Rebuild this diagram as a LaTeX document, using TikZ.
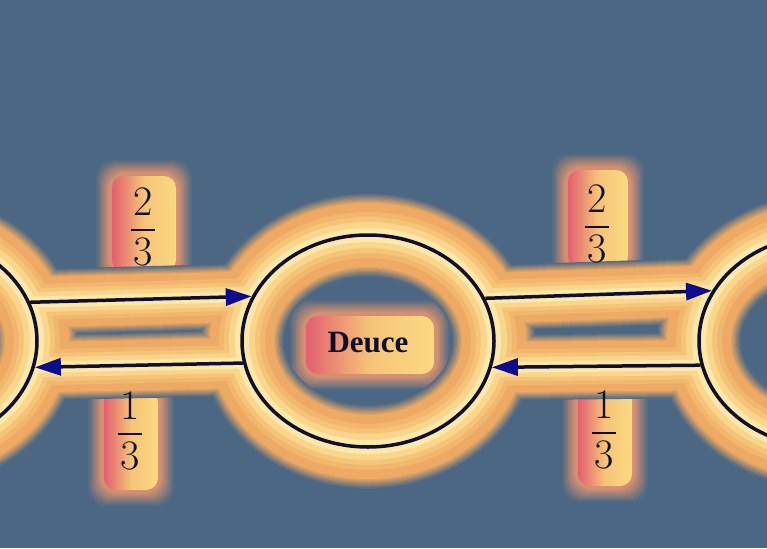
\documentclass[tikz,border=0pt]{standalone}
\usepackage{fontspec}
\newfontfamily\deucefont{Liberation Serif}
\usetikzlibrary{arrows.meta,backgrounds,shapes.geometric}
\definecolor{bg}{RGB}{75,103,132}
\definecolor{ink}{RGB}{15,15,45}
\definecolor{tipblue}{RGB}{12,12,140}
\definecolor{gD}{RGB}{238,170,100}
\definecolor{gE}{RGB}{246,196,120}
\definecolor{gF}{RGB}{250,214,140}
\definecolor{gG}{RGB}{252,232,170}
\definecolor{pinkglow}{RGB}{226,96,112}
\definecolor{yelglow}{RGB}{250,218,130}
\definecolor{halo}{RGB}{232,150,110}
\newcommand\glowlevel[3]{%
  \draw[line width=#1, color=#3] (L.center) ellipse [x radius=126, y radius=106];
  \draw[line width=#1, color=#3] (C.center) ellipse [x radius=126, y radius=106];
  \draw[line width=#1, color=#3] (R.center) ellipse [x radius=126, y radius=106];
  \draw[line width=#2, color=#3] (L.18.9) -- (C.159.1);
  \draw[line width=#2, color=#3] (C.-170.8) -- (L.-12.5);
  \draw[line width=#2, color=#3] (C.20.5) -- (R.156.4);
  \draw[line width=#2, color=#3] (R.-169.9) -- (C.-12);
}
\newcommand\labglow[4]{%
  \foreach \i in {0,...,6}{%
    \pgfmathsetmacro\off{16-2*\i}%
    \pgfmathsetmacro\mx{int(8+13*\i)}%
    \fill[halo!\mx!bg, rounded corners=18pt] (#1-\off,#2-\off) rectangle (#3+\off,#4+\off);
  }
  \shade[rounded corners=12pt, left color=pinkglow, right color=yelglow, middle color=gE] (#1,#2) rectangle (#3,#4);
}
\newcommand\fr[2]{\vbox{\offinterlineskip\halign{\hfil##\hfil\cr #1\cr\noalign{\kern13pt}\rule{24pt}{1.8pt}\cr\noalign{\kern7pt}#2\cr}}}
\tikzset{
  ell/.style={ellipse, minimum width=252pt, minimum height=212pt, inner sep=0pt, draw=ink, line width=3.5pt},
  arr/.style={draw=ink, line width=3.5pt, -{Triangle[length=26pt,width=17pt,color=tipblue]}},
  fraclab/.style={inner sep=0pt, text=ink, font=\fontsize{42}{46}\selectfont},
  deucelab/.style={inner sep=0pt, text=ink, font=\fontsize{31}{36}\selectfont\deucefont\bfseries}
}
\begin{document}
\begin{tikzpicture}[x=1pt,y=-1pt]
\useasboundingbox (0,0) rectangle (767,548);
\node[ell] (L) at (-89,341) {};
\node[ell] (C) at (368,341) {};
\node[ell] (R) at (825,341) {};
\node[deucelab] (d) at (368,343) {Deuce};
\node[fraclab] (p1) at (143,227) {\fr{2}{3}};
\node[fraclab] (p2) at (597,224) {\fr{2}{3}};
\node[fraclab] (q1) at (130,431) {\fr{1}{3}};
\node[fraclab] (q2) at (604,430) {\fr{1}{3}};
\draw[arr] (L.18.9) -- (C.159.1);
\draw[arr] (C.-170.8) -- (L.-12.5);
\draw[arr] (C.20.5) -- (R.156.4);
\draw[arr] (R.-169.9) -- (C.-12);
\begin{pgfonlayer}{background}
\fill[bg] (0,0) rectangle (767,548);
\labglow{112}{176}{176}{272}
\labglow{568}{170}{628}{268}
\labglow{104}{390}{158}{490}
\labglow{578}{384}{632}{486}
\labglow{306}{316}{434}{374}
\foreach \i in {0,...,8}{%
  \pgfmathsetmacro\we{84-2.5*\i}%
  \pgfmathsetmacro\wa{66-2*\i}%
  \pgfmathsetmacro\mx{int(4+12*\i)}%
  \glowlevel{\we pt}{\wa pt}{gD!\mx!bg}
}
\glowlevel{54pt}{44pt}{gD}
\glowlevel{46pt}{36pt}{gD!50!gE}
\glowlevel{36pt}{28pt}{gE}
\glowlevel{26pt}{20pt}{gF}
\glowlevel{14pt}{11pt}{gG}
\end{pgfonlayer}
\end{tikzpicture}
\end{document}
